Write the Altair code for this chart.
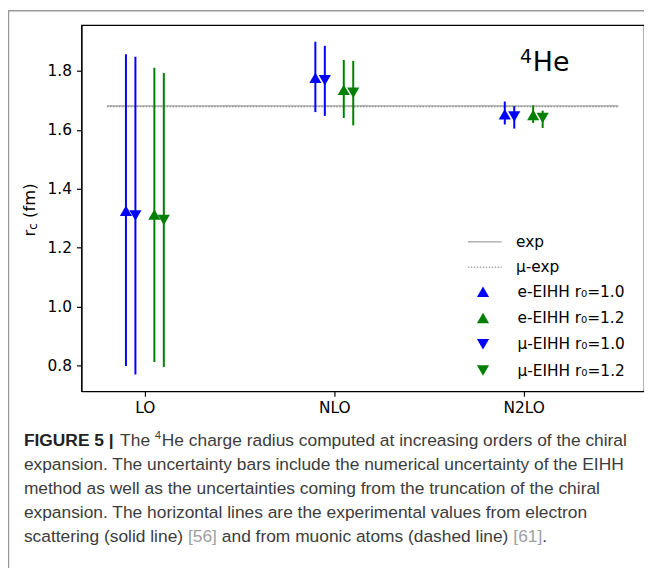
import json
import altair as alt
import pandas as pd

# ---------------- data ----------------
orders = ["LO", "NLO", "N2LO"]
series = ["e-EIHH r₀=1.0", "e-EIHH r₀=1.2", "μ-EIHH r₀=1.0", "μ-EIHH r₀=1.2"]
series_colors = ["#0000ff", "#008000", "#0000ff", "#008000"]
series_shapes = ["triangle-up", "triangle-up", "triangle-down", "triangle-down"]
series_shift = [-0.10, 0.05, -0.05, 0.10]

e10_val = [1.325, 1.777, 1.653]
e10_lo = [0.798, 1.660, 1.618]
e10_hi = [1.856, 1.899, 1.696]

e12_val = [1.312, 1.736, 1.650]
e12_lo = [0.812, 1.640, 1.623]
e12_hi = [1.811, 1.837, 1.683]

m10_val = [1.309, 1.768, 1.645]
m10_lo = [0.769, 1.647, 1.604]
m10_hi = [1.848, 1.885, 1.680]

m12_val = [1.294, 1.726, 1.640]
m12_lo = [0.795, 1.615, 1.606]
m12_hi = [1.793, 1.834, 1.665]

exp_labels = ["exp", "μ-exp"]
exp_values = [1.681, 1.6782]
exp_xrange = [-0.2, 2.5]

y_ticks = [0.8, 1.0, 1.2, 1.4, 1.6, 1.8]

# ---------------- tables ----------------
vals = [e10_val, e12_val, m10_val, m12_val]
los = [e10_lo, e12_lo, m10_lo, m12_lo]
his = [e10_hi, e12_hi, m10_hi, m12_hi]
rows = []
for s, name in enumerate(series):
    for i, o in enumerate(orders):
        rows.append({"series": name, "order": o, "xpos": i + series_shift[s],
                     "val": vals[s][i], "lo": los[s][i], "hi": his[s][i]})
df = pd.DataFrame(rows)
exp_df = pd.DataFrame({"label": exp_labels, "val": exp_values,
                       "x0": [exp_xrange[0]] * 2, "x1": [exp_xrange[1]] * 2})
one = pd.DataFrame({"a": [0]})

W, H = 567, 369
PAD = {"left": 74, "top": 15, "right": 0, "bottom": 176}

xscale = alt.Scale(domain=[-0.335, 2.635], nice=False, zero=False)
yscale = alt.Scale(domain=[0.7125, 1.9555], nice=False, zero=False)
cscale = alt.Scale(domain=series, range=series_colors)
sscale = alt.Scale(domain=series, range=series_shapes)

xaxis = alt.Axis(values=[0, 1, 2], labelExpr=f"{json.dumps(orders)}[round(datum.value)]",
                 title=None, grid=False, labelPadding=4)
yaxis = alt.Axis(values=y_ticks, format=".1f", title=None, grid=False, labelPadding=5)

series_legend = alt.Legend(orient="none", legendX=397, legendY=261, title=None,
                           labelFont="DejaVu Sans", labelFontSize=15.5, labelColor="black",
                           symbolSize=150, symbolStrokeWidth=0, rowPadding=9.5,
                           labelOffset=27, padding=0)

exp_layer = alt.Chart(exp_df).mark_rule(color="#808080", strokeWidth=1).encode(
    x=alt.X("x0:Q", scale=xscale, axis=xaxis),
    x2="x1:Q",
    y=alt.Y("val:Q", scale=yscale, axis=yaxis),
    strokeDash=alt.StrokeDash(
        "label:N",
        scale=alt.Scale(domain=exp_labels, range=[[1, 0], [1.5, 1.5]]),
        legend=alt.Legend(orient="none", legendX=389, legendY=211, title=None,
                          labelFont="DejaVu Sans", labelFontSize=15.5, labelColor="black",
                          symbolType="stroke", symbolSize=1156, symbolStrokeWidth=1,
                          symbolStrokeColor="#808080", clipHeight=15, rowPadding=9.5,
                          labelOffset=14, padding=0),
    ),
)

bars = alt.Chart(df).mark_rule(strokeWidth=2).encode(
    x=alt.X("xpos:Q", scale=xscale, axis=xaxis),
    y=alt.Y("lo:Q", scale=yscale, axis=yaxis),
    y2="hi:Q",
    color=alt.Color("series:N", scale=cscale, legend=None),
)

points = alt.Chart(df).mark_point(filled=True, size=150, opacity=1).encode(
    x=alt.X("xpos:Q", scale=xscale, axis=xaxis),
    y=alt.Y("val:Q", scale=yscale, axis=yaxis),
    color=alt.Color("series:N", scale=cscale, legend=series_legend),
    shape=alt.Shape("series:N", scale=sscale, legend=series_legend),
)


def txt(text, x, y, size, font="DejaVu Sans", color="black", weight="normal",
        angle=0, align="left", baseline="alphabetic"):
    return alt.Chart(one).mark_text(
        text=text, font=font, fontSize=size, color=color, fontWeight=weight,
        angle=angle, align=align, baseline=baseline,
    ).encode(x=alt.value(x), y=alt.value(y))


# origin of plot area on the page: (82, 23)
OX, OY = 82, 23
YT = 213  # start (bottom) of rotated y title, plot coords
labels = [
    # y-axis title r_c (fm)
    txt("r", 30 - OX, YT, 16.5, angle=270, baseline="middle"),
    txt("c", 33.5 - OX, YT - 6.8, 12, angle=270, baseline="middle"),
    txt("(fm)", 30 - OX, YT - 6.8 - 6.6 - 5.2, 16.5, angle=270, baseline="middle"),
    # 4He label
    txt("4", 524 - OX, 61 - OY, 19),
    txt("He", 537 - OX, 69 - OY, 27),
]

CF = "Liberation Sans"
CS = 17.5
CC = "#3c3c3c"
GC = "#a0a0a0"
base = [447.5, 471.5, 495.5, 519.5, 544.5]
cap = [
    txt("FIGURE 5 |", 24 - OX, base[0] - OY, CS, font=CF, color="#222222", weight="bold"),
    txt("The", 121 - OX, base[0] - OY, CS, font=CF, color=CC),
    txt("4", 156 - OX, base[0] - 7 - OY, 11.5, font=CF, color=CC),
    txt("He charge radius computed at increasing orders of the chiral", 163 - OX, base[0] - OY, CS, font=CF, color=CC),
    txt("expansion. The uncertainty bars include the numerical uncertainty of the EIHH", 24 - OX, base[1] - OY, CS, font=CF, color=CC),
    txt("method as well as the uncertainties coming from the truncation of the chiral", 24 - OX, base[2] - OY, CS, font=CF, color=CC),
    txt("expansion. The horizontal lines are the experimental values from electron", 24 - OX, base[3] - OY, CS, font=CF, color=CC),
    txt("scattering (solid line)", 24 - OX, base[4] - OY, CS, font=CF, color=CC),
    txt("[56]", 189.4 - OX, base[4] - OY, CS, font=CF, color=GC),
    txt("and from muonic atoms (dashed line)", 223.5 - OX, base[4] - OY, CS, font=CF, color=CC),
    txt("[61]", 517.3 - OX, base[4] - OY, CS, font=CF, color=GC),
    txt(".", 546.5 - OX, base[4] - OY, CS, font=CF, color=CC),
]

frame = [
    alt.Chart(one).mark_rule(color="#9a9a9a", strokeWidth=1.5).encode(
        x=alt.value(8.5 - OX), y=alt.value(8 - OY), y2=alt.value(581 - OY)),
    alt.Chart(one).mark_rule(color="#9a9a9a", strokeWidth=1.5).encode(
        x=alt.value(8 - OX), x2=alt.value(652 - OX), y=alt.value(8.5 - OY)),
]

chart = alt.layer(exp_layer, bars, points, *labels, *cap, *frame).resolve_legend(
    color="independent", shape="independent", strokeDash="independent"
).properties(
    width=W, height=H, padding=PAD, autosize=alt.AutoSizeParams(type="none"),
    background="white",
).configure_view(
    stroke="black", strokeWidth=1.2
).configure_axis(
    domainColor="black", domainWidth=1.2, tickColor="black", tickWidth=1.2, tickSize=5,
    labelFont="DejaVu Sans", labelFontSize=15.5, labelColor="black",
)

chart.save("out.html", embed_options={"renderer": "svg", "actions": False})
